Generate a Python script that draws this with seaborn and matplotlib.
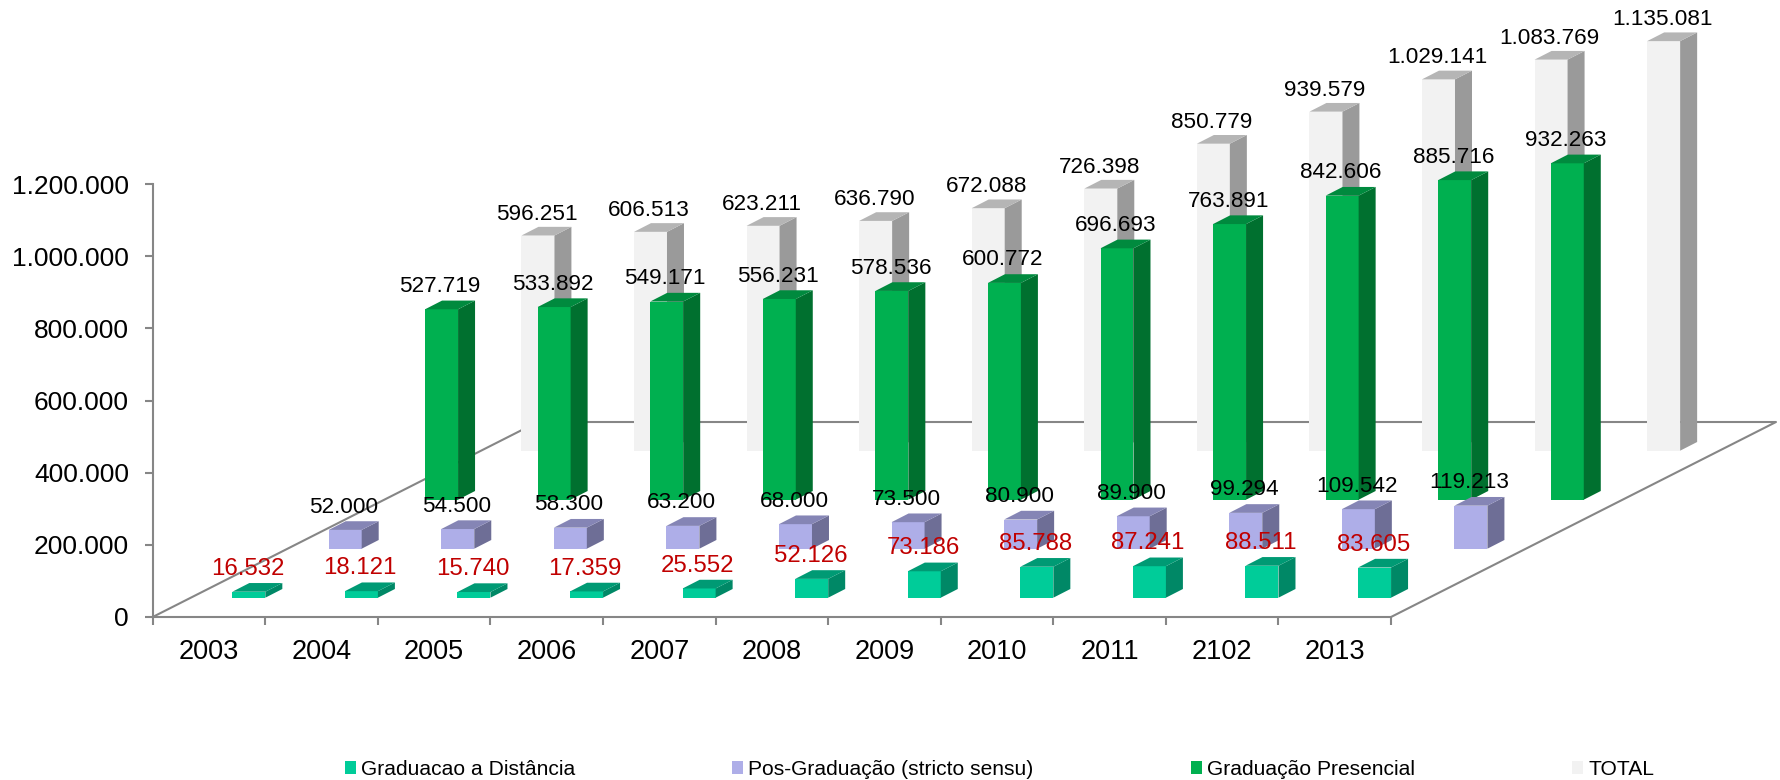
import matplotlib
matplotlib.use("Agg")
import matplotlib.pyplot as plt
from matplotlib.patches import Patch, Polygon
from matplotlib.ticker import FuncFormatter
from matplotlib.transforms import Affine2D
import pandas as pd
import seaborn as sns

years = ["2003", "2004", "2005", "2006", "2007", "2008", "2009", "2010", "2011", "2102", "2013"]

distancia = [16532, 18121, 15740, 17359, 25552, 52126, 73186, 85788, 87241, 88511, 83605]
pos_graduacao = [52000, 54500, 58300, 63200, 68000, 73500, 80900, 89900, 99294, 109542, 119213]
presencial = [527719, 533892, 549171, 556231, 578536, 600772, 696693, 763891, 842606, 885716, 932263]
total = [596251, 606513, 623211, 636790, 672088, 726398, 850779, 939579, 1029141, 1083769, 1135081]

series_names = ["Graduacao a Distância", "Pos-Graduação (stricto sensu)", "Graduação Presencial", "TOTAL"]
y_ticks = [0, 200000, 400000, 600000, 800000, 1000000, 1200000]

# Face colours per series: front, side, top, label
face_colors = [
    ("#00CC99", "#008866", "#009A74", "#C00000"),
    ("#AEAEE8", "#6E6E96", "#8585B5", "#000000"),
    ("#00B050", "#00702F", "#008A3E", "#000000"),
    ("#F2F2F2", "#9A9A9A", "#B5B5B5", "#000000"),
]
label_sizes = [17.3, 16.2, 16.2, 16.2]
label_rise = [16.5, 16.5, 16.5, 15.5]

# Oblique projection of the depth axis, in category / value units
BAR_WIDTH = 0.293
BASE_DX, BASE_DY = 0.354, 53500
STEP_DX, STEP_DY = 0.856, 135800
SIDE_DX, SIDE_DY = 0.151, 24100
FLOOR_DX, FLOOR_DY = 3.42, 540400

sns.set_theme(style="white")
plt.rcParams["font.family"] = ["Liberation Sans", "DejaVu Sans"]

W, H = 1781, 780
fig = plt.figure(figsize=(W / 100, H / 100), dpi=100, facecolor="white")
ax = fig.add_axes([152.7 / W, (H - 617) / H, (1391 - 152.7) / W, (617 - 184) / H])

frame = pd.DataFrame({"ano": years, series_names[0]: distancia, series_names[1]: pos_graduacao,
                      series_names[2]: presencial, series_names[3]: total})
long_frame = frame.melt(id_vars="ano", var_name="serie", value_name="alunos")

GRAY = "#868686"
LINE_W = 1.5

# Rear series are drawn first so the nearer ones cover them
for depth in range(len(series_names) - 1, -1, -1):
    name = series_names[depth]
    front, side, top, label_color = face_colors[depth]
    layer = 20 - depth
    subset = long_frame[long_frame["serie"] == name]
    sns.barplot(data=subset, x="ano", y="alunos", color=front, saturation=1, width=BAR_WIDTH,
                linewidth=0, errorbar=None, ax=ax, order=years)
    shift = Affine2D().translate(BASE_DX + STEP_DX * depth, BASE_DY + STEP_DY * depth) + ax.transData
    for bar, value in zip(ax.containers[-1], subset["alunos"]):
        x0, x1 = bar.get_x(), bar.get_x() + bar.get_width()
        bar.set_transform(shift)
        bar.set_clip_on(False)
        bar.set_zorder(layer)
        side_face = Polygon([(x1, 0), (x1 + SIDE_DX, SIDE_DY), (x1 + SIDE_DX, value + SIDE_DY), (x1, value)],
                            closed=True, facecolor=side, linewidth=0, transform=shift,
                            clip_on=False, zorder=layer)
        top_face = Polygon([(x0, value), (x1, value), (x1 + SIDE_DX, value + SIDE_DY), (x0 + SIDE_DX, value + SIDE_DY)],
                           closed=True, facecolor=top, linewidth=0, transform=shift,
                           clip_on=False, zorder=layer)
        ax.add_patch(side_face)
        ax.add_patch(top_face)
        ax.annotate(f"{value:,}".replace(",", "."), xy=((x0 + x1) / 2, value), xycoords=shift,
                    xytext=(-1, label_rise[depth]), textcoords="offset points", ha="center", va="center",
                    fontsize=label_sizes[depth], color=label_color, annotation_clip=False, zorder=30)

ax.set_xlim(-0.5, len(years) - 0.5)
ax.set_ylim(0, 1200000)

# Floor outline behind the bars
ax.plot([-0.5, -0.5 + FLOOR_DX, len(years) - 0.5 + FLOOR_DX, len(years) - 0.5],
        [0, FLOOR_DY, FLOOR_DY, 0], color=GRAY, linewidth=LINE_W, clip_on=False, zorder=2)

sns.despine(ax=ax)
for spine in ("left", "bottom"):
    ax.spines[spine].set_color(GRAY)
    ax.spines[spine].set_linewidth(LINE_W)
ax.patch.set_alpha(0)
ax.set_xlabel("")
ax.set_ylabel("")

# Tick marks sit on the category boundaries, labels at the centres
ax.set_xticks([i - 0.5 for i in range(len(years) + 1)], labels=[])
ax.set_xticks(range(len(years)), labels=years, minor=True)
ax.tick_params(axis="x", which="major", bottom=True, length=6, width=LINE_W, color=GRAY)
ax.tick_params(axis="x", which="minor", bottom=False, length=0, pad=15.5, labelsize=19.5, labelcolor="black")
ax.set_yticks(y_ticks)
ax.yaxis.set_major_formatter(FuncFormatter(lambda v, _: f"{int(v):,}".replace(",", ".")))
ax.tick_params(axis="y", left=True, length=6, width=LINE_W, color=GRAY, pad=11, labelsize=19, labelcolor="black")
ax.grid(False)

handles = [Patch(facecolor=c[0], linewidth=0) for c in face_colors]
fig.legend(handles, series_names, loc="center", bbox_to_anchor=(999.5 / W, 1 - 769.5 / H), ncol=4,
           frameon=False, fontsize=15.1, labelcolor="black", handlelength=0.53, handleheight=0.53,
           handletextpad=0.24, columnspacing=7.5, borderpad=0, borderaxespad=0)

fig.savefig("out.png", dpi=100, facecolor="white")
